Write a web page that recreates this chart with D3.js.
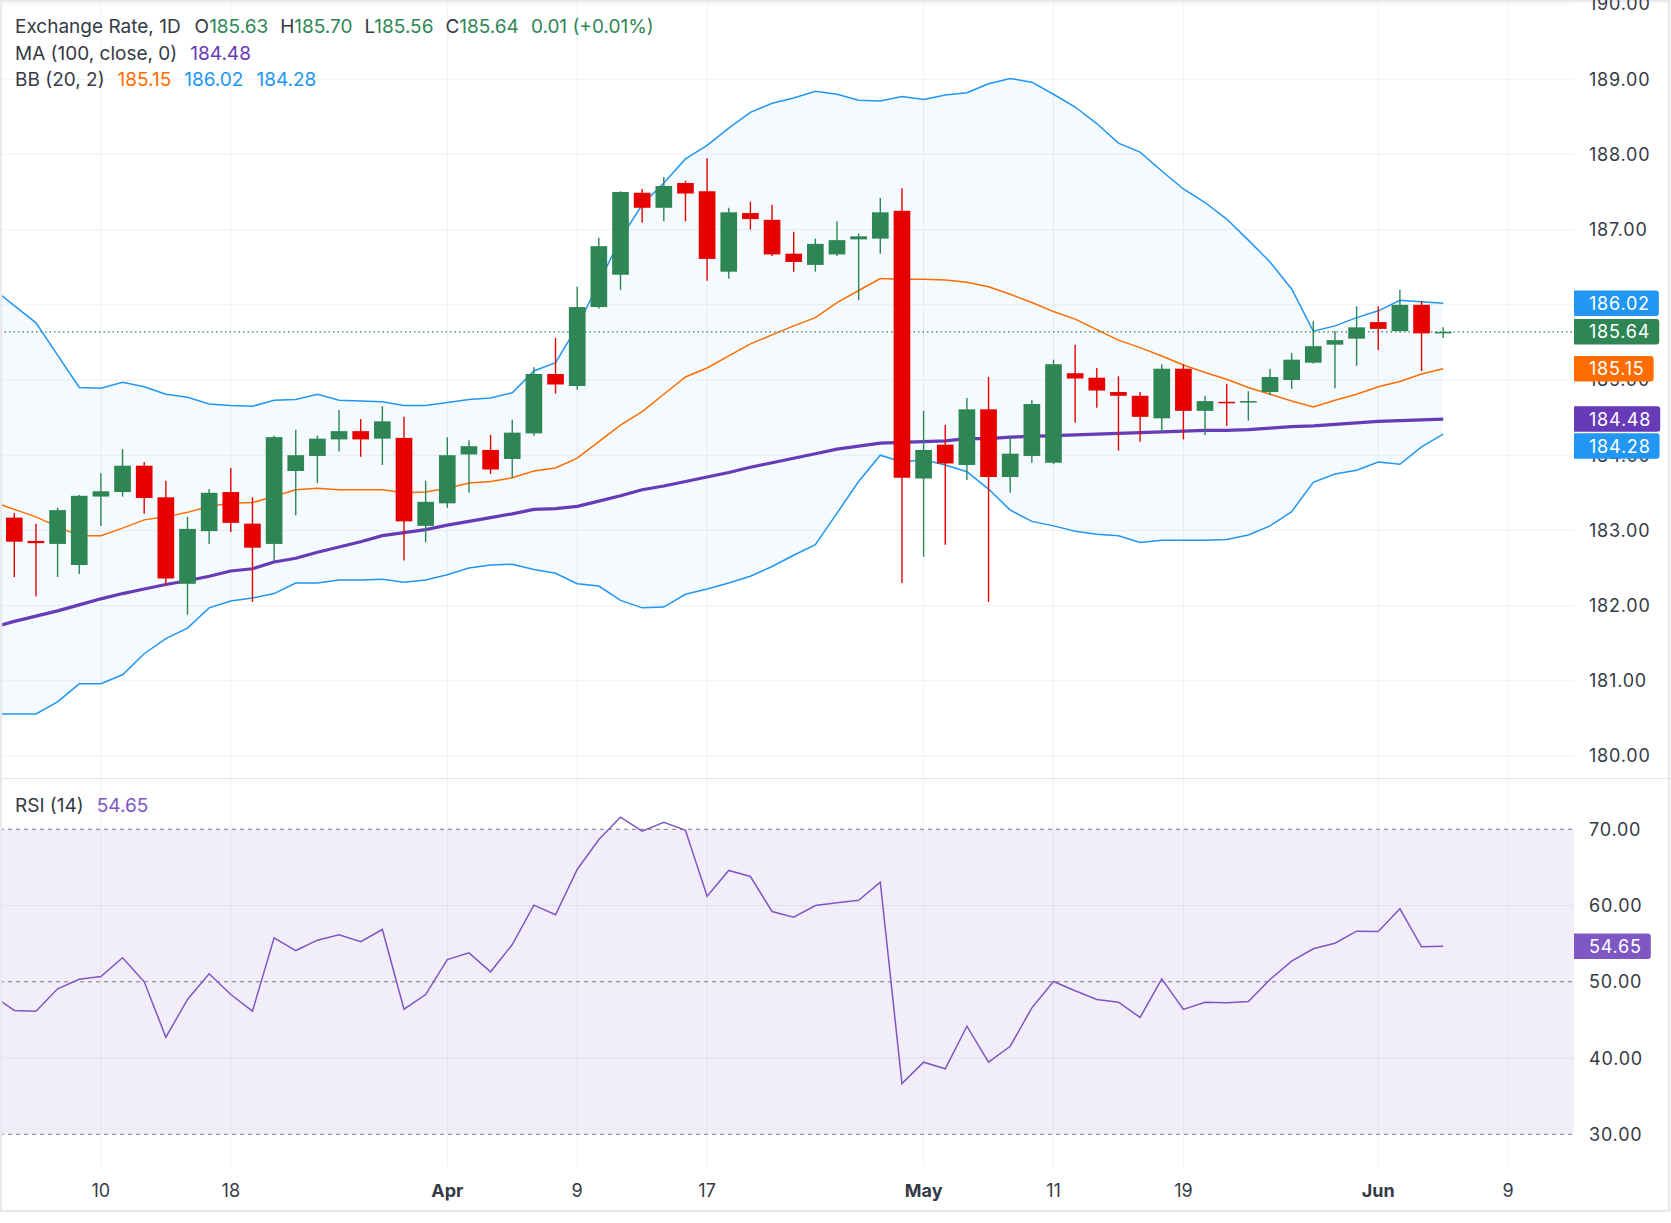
<!DOCTYPE html>
<html>
<head>
<meta charset="utf-8">
<script src="https://cdn.jsdelivr.net/npm/d3@7"></script>
<style>
  html, body { margin: 0; padding: 0; background: #fff; }
  svg { display: block; font-family: Inter, "Noto Sans", sans-serif; }
</style>
</head>
<body>
<div id="chart"></div>
<script>
// ---- data ----
const firstDay = "2026-03-04";           // first visible daily bar (weekdays only)
const tickDates = ["2026-03-10", "2026-03-18", "2026-04-01", "2026-04-09", "2026-04-17",
                   "2026-05-01", "2026-05-11", "2026-05-19", "2026-06-01", "2026-06-09"];
const tickLabels = ["10", "18", "Apr", "9", "17", "May", "11", "19", "Jun", "9"];
const monthTicks = ["Apr", "May", "Jun"];

const open = [183.17, 182.86, 182.82, 182.54, 183.45, 183.51, 183.86, 183.44, 182.29, 182.99,
  183.51, 183.09, 182.82, 183.79, 183.99, 184.21, 184.32, 184.22, 184.23, 183.06,
  183.36, 184.01, 184.07, 183.95, 184.29, 185.08, 184.92, 185.97, 186.40, 187.49,
  187.29, 187.62, 187.51, 186.44, 187.22, 187.13, 186.68, 186.53, 186.67, 186.87,
  186.88, 187.25, 183.69, 184.14, 183.87, 184.61, 183.71, 183.99, 183.90, 185.09,
  185.03, 184.84, 184.79, 184.49, 185.15, 184.59, 184.71, 184.70, 184.84, 185.00,
  185.23, 185.47, 185.55, 185.77, 185.65, 186.00, 185.63];
const high = [183.23, 183.09, 183.30, 183.47, 183.76, 184.08, 183.91, 183.66, 183.18, 183.55,
  183.83, 183.44, 184.26, 184.34, 184.26, 184.60, 184.48, 184.65, 184.51, 183.66,
  184.24, 184.20, 184.27, 184.47, 185.17, 185.56, 186.24, 186.89, 187.51, 187.54,
  187.70, 187.65, 187.95, 187.29, 187.37, 187.33, 186.97, 186.88, 187.11, 186.95,
  187.42, 187.55, 184.59, 184.40, 184.76, 185.04, 184.24, 184.73, 185.27, 185.47,
  185.16, 185.05, 184.84, 185.21, 185.21, 184.79, 184.95, 184.85, 185.15, 185.36,
  185.78, 185.65, 185.98, 185.98, 186.20, 186.05, 185.70];
const low = [182.38, 182.12, 182.38, 182.42, 183.06, 183.45, 183.22, 182.27, 181.88, 182.82,
  182.98, 182.05, 182.59, 183.20, 183.63, 184.05, 183.98, 183.87, 182.60, 182.84,
  183.30, 183.50, 183.75, 183.70, 184.26, 184.82, 184.87, 185.95, 186.20, 187.09,
  187.11, 187.11, 186.32, 186.35, 187.00, 186.65, 186.44, 186.44, 186.65, 186.06,
  186.68, 182.30, 182.65, 182.81, 183.67, 182.05, 183.50, 183.90, 183.88, 184.43,
  184.63, 184.06, 184.18, 184.31, 184.21, 184.27, 184.39, 184.46, 184.80, 184.88,
  185.22, 184.89, 185.19, 185.40, 185.64, 185.12, 185.56];
const close = [182.85, 182.83, 183.27, 183.46, 183.52, 183.86, 183.43, 182.36, 183.02, 183.50,
  183.10, 182.77, 184.24, 184.00, 184.22, 184.32, 184.21, 184.45, 183.12, 183.38,
  184.00, 184.12, 183.81, 184.30, 185.08, 184.94, 185.97, 186.78, 187.50, 187.29,
  187.58, 187.48, 186.61, 187.23, 187.14, 186.67, 186.57, 186.81, 186.86, 186.91,
  187.23, 183.70, 184.07, 183.89, 184.61, 183.71, 184.02, 184.68, 185.21, 185.02,
  184.86, 184.79, 184.51, 185.15, 184.59, 184.72, 184.70, 184.72, 185.04, 185.27,
  185.45, 185.53, 185.70, 185.68, 186.00, 185.62, 185.64];

// indicator series start one bar before the first visible candle
const indicatorStart = -1;
const bbUpper = [186.22, 185.99, 185.76, 185.33, 184.90, 184.89, 184.97, 184.91, 184.81, 184.77,
  184.68, 184.66, 184.65, 184.73, 184.74, 184.81, 184.73, 184.72, 184.71, 184.66,
  184.66, 184.70, 184.74, 184.76, 184.83, 185.12, 185.23, 185.71, 186.29, 186.88,
  187.33, 187.62, 187.94, 188.12, 188.35, 188.56, 188.68, 188.75, 188.84, 188.80,
  188.72, 188.71, 188.77, 188.73, 188.79, 188.82, 188.94, 189.01, 188.96, 188.80,
  188.63, 188.41, 188.15, 188.03, 187.78, 187.54, 187.36, 187.14, 186.86, 186.57,
  186.21, 185.65, 185.72, 185.83, 185.92, 186.06, 186.04, 186.02];
const bbMid = [183.38, 183.28, 183.18, 183.05, 182.93, 182.93, 183.03, 183.14, 183.18, 183.24,
  183.32, 183.36, 183.37, 183.45, 183.54, 183.56, 183.54, 183.54, 183.54, 183.50,
  183.51, 183.56, 183.63, 183.65, 183.70, 183.79, 183.83, 183.96, 184.18, 184.40,
  184.58, 184.81, 185.04, 185.16, 185.32, 185.48, 185.60, 185.72, 185.83, 186.03,
  186.19, 186.35, 186.34, 186.34, 186.33, 186.30, 186.24, 186.14, 186.03, 185.91,
  185.81, 185.67, 185.53, 185.43, 185.32, 185.20, 185.10, 185.01, 184.90, 184.81,
  184.72, 184.64, 184.73, 184.81, 184.91, 184.98, 185.08, 185.15];
const bbLower = [180.56, 180.56, 180.56, 180.72, 180.96, 180.96, 181.08, 181.36, 181.56, 181.70,
  181.97, 182.06, 182.10, 182.16, 182.30, 182.30, 182.34, 182.34, 182.35, 182.31,
  182.34, 182.41, 182.50, 182.54, 182.55, 182.48, 182.43, 182.29, 182.26, 182.07,
  181.97, 181.98, 182.15, 182.22, 182.30, 182.39, 182.52, 182.67, 182.81, 183.23,
  183.65, 184.00, 183.91, 183.94, 183.87, 183.78, 183.55, 183.27, 183.12, 183.06,
  182.99, 182.95, 182.93, 182.84, 182.87, 182.87, 182.87, 182.88, 182.94, 183.06,
  183.25, 183.64, 183.75, 183.80, 183.91, 183.88, 184.11, 184.28];
const ma100 = [181.71, 181.79, 181.86, 181.93, 182.01, 182.09, 182.16, 182.22, 182.28, 182.33,
  182.39, 182.46, 182.49, 182.58, 182.63, 182.71, 182.78, 182.85, 182.93, 182.97,
  183.01, 183.07, 183.12, 183.17, 183.22, 183.28, 183.29, 183.32, 183.39, 183.46,
  183.54, 183.59, 183.65, 183.71, 183.77, 183.84, 183.90, 183.96, 184.02, 184.08,
  184.12, 184.16, 184.17, 184.18, 184.19, 184.22, 184.22, 184.24, 184.25, 184.26,
  184.27, 184.28, 184.29, 184.30, 184.31, 184.32, 184.33, 184.33, 184.34, 184.36,
  184.38, 184.39, 184.41, 184.43, 184.45, 184.46, 184.47, 184.48];
const rsi14 = [48.2, 46.24, 46.15, 49.08, 50.34, 50.70, 53.15, 50.00, 42.74, 47.68,
  51.05, 48.33, 46.15, 55.77, 54.10, 55.46, 56.16, 55.25, 56.86, 46.41,
  48.33, 52.92, 53.80, 51.31, 54.89, 60.05, 58.79, 64.73, 68.66, 71.59,
  69.76, 70.93, 69.88, 61.23, 64.60, 63.81, 59.22, 58.47, 60.01, 60.36,
  60.70, 63.07, 36.66, 39.46, 38.59, 44.18, 39.46, 41.55, 46.59, 50.04,
  48.82, 47.68, 47.32, 45.32, 50.39, 46.37, 47.32, 47.24, 47.42, 50.30,
  52.70, 54.33, 55.06, 56.64, 56.60, 59.57, 54.59, 54.65];

const priceTicks = [180, 181, 182, 183, 184, 185, 186, 187, 188, 189, 190];
const rsiTicks = [70, 60, 50, 40, 30];
const rsiLevels = [70, 50, 30];

// ---- layout ----
const width = 1671;
const height = 1223;
const plotRight = 1574;
const mainBottom = 778;
const rsiBottom = 1167;
const labelX = 1589;

const colUp = "#2e8655";
const colDown = "#e60000";
const colBB = "#2196f3";
const colMid = "#ff6d00";
const colMA = "#673ab7";
const colRSI = "#7e57c2";
const colText = "#363a45";
const colGrid = "#eff1f4";

// trading days (weekdays) from the first bar
const parse = d3.utcParse("%Y-%m-%d");
const tradingDays = d3.utcDays(parse(firstDay), parse("2026-07-01"))
  .filter(d => d.getUTCDay() !== 0 && d.getUTCDay() !== 6);
const fmt = d3.utcFormat("%Y-%m-%d");
const dayIndex = new Map(tradingDays.map((d, i) => [fmt(d), i]));

const xScale = d3.scaleLinear().domain([0, 66]).range([14.3, 1443.2]);
const yPrice = d3.scaleLinear().domain([180, 190]).range([756, 4]);
const yRsi = d3.scaleLinear().domain([30, 70]).range([1134.3, 829.3]);
const step = xScale(1) - xScale(0);
const bodyW = step * 0.77;

const svg = d3.select("#chart")
  .append("svg")
  .attr("width", width)
  .attr("height", height);

const defs = svg.append("defs");
defs.append("clipPath").attr("id", "clipMain")
  .append("rect").attr("x", 0).attr("y", 0).attr("width", plotRight).attr("height", mainBottom);
defs.append("clipPath").attr("id", "clipRsi")
  .append("rect").attr("x", 0).attr("y", mainBottom + 1).attr("width", plotRight).attr("height", rsiBottom - mainBottom - 1);

// Grid
const grid = svg.append("g");
grid.selectAll(".hgrid")
  .data(priceTicks)
  .enter().append("line")
  .attr("x1", 0).attr("x2", plotRight)
  .attr("y1", d => yPrice(d)).attr("y2", d => yPrice(d))
  .attr("stroke", colGrid).attr("stroke-width", 1);
grid.selectAll(".rgrid")
  .data([60, 40])
  .enter().append("line")
  .attr("x1", 0).attr("x2", plotRight)
  .attr("y1", d => yRsi(d)).attr("y2", d => yRsi(d))
  .attr("stroke", colGrid).attr("stroke-width", 1);
const tickX = tickDates.map(d => xScale(dayIndex.get(d)));
grid.selectAll(".vgrid")
  .data(tickX)
  .enter().append("line")
  .attr("x1", d => d).attr("x2", d => d)
  .attr("y1", 0).attr("y2", rsiBottom)
  .attr("stroke", colGrid).attr("stroke-width", 1);

// ---- main pane ----
const main = svg.append("g").attr("clip-path", "url(#clipMain)");
const ix = i => xScale(i + indicatorStart);

const band = d3.area()
  .x((d, i) => ix(i))
  .y0((d, i) => yPrice(bbLower[i]))
  .y1(d => yPrice(d));
main.append("path").datum(bbUpper)
  .attr("d", band)
  .attr("fill", colBB).attr("fill-opacity", 0.05);

const priceLine = d3.line().x((d, i) => ix(i)).y(d => yPrice(d));
main.append("path").datum(bbUpper).attr("d", priceLine)
  .attr("fill", "none").attr("stroke", colBB).attr("stroke-width", 1.5);
main.append("path").datum(bbLower).attr("d", priceLine)
  .attr("fill", "none").attr("stroke", colBB).attr("stroke-width", 1.5);
main.append("path").datum(bbMid).attr("d", priceLine)
  .attr("fill", "none").attr("stroke", colMid).attr("stroke-width", 1.5);
main.append("path").datum(ma100).attr("d", priceLine)
  .attr("fill", "none").attr("stroke", colMA).attr("stroke-width", 3.2)
  .attr("stroke-linejoin", "round");

// last price dotted line
const lastClose = close[close.length - 1];
main.append("line")
  .attr("x1", 0).attr("x2", plotRight)
  .attr("y1", yPrice(lastClose)).attr("y2", yPrice(lastClose))
  .attr("stroke", colUp).attr("stroke-width", 1.2)
  .attr("stroke-dasharray", "1.5,3");

// candles
const candles = main.selectAll(".candle")
  .data(close.map((c, i) => ({ i, o: open[i], h: high[i], l: low[i], c })))
  .enter().append("g")
  .attr("class", "candle");
candles.append("line")
  .attr("x1", d => xScale(d.i)).attr("x2", d => xScale(d.i))
  .attr("y1", d => yPrice(d.h)).attr("y2", d => yPrice(d.l))
  .attr("stroke", d => d.c >= d.o ? colUp : colDown)
  .attr("stroke-width", 1.4);
candles.append("rect")
  .attr("x", d => xScale(d.i) - bodyW / 2)
  .attr("width", bodyW)
  .attr("y", d => yPrice(Math.max(d.o, d.c)))
  .attr("height", d => Math.max(1.5, Math.abs(yPrice(d.o) - yPrice(d.c))))
  .attr("fill", d => d.c >= d.o ? colUp : colDown);

// ---- RSI pane ----
const rsiG = svg.append("g").attr("clip-path", "url(#clipRsi)");
rsiG.append("rect")
  .attr("x", 0).attr("width", plotRight)
  .attr("y", yRsi(70)).attr("height", yRsi(30) - yRsi(70))
  .attr("fill", colRSI).attr("fill-opacity", 0.1);
rsiG.selectAll(".lvl")
  .data(rsiLevels)
  .enter().append("line")
  .attr("x1", 0).attr("x2", plotRight)
  .attr("y1", d => yRsi(d)).attr("y2", d => yRsi(d))
  .attr("stroke", "#787b86").attr("stroke-width", 1)
  .attr("stroke-dasharray", "4,4");
rsiG.append("path").datum(rsi14)
  .attr("d", d3.line().x((d, i) => ix(i)).y(d => yRsi(d)))
  .attr("fill", "none").attr("stroke", colRSI).attr("stroke-width", 1.5);

// pane separator and outer frame
svg.append("line")
  .attr("x1", 0).attr("x2", width).attr("y1", mainBottom + 0.5).attr("y2", mainBottom + 0.5)
  .attr("stroke", "#e0e3eb").attr("stroke-width", 1);
svg.append("rect")
  .attr("x", 1).attr("y", 1).attr("width", 1668).attr("height", 1210)
  .attr("fill", "none").attr("stroke", "#e9eaee").attr("stroke-width", 2.5);

// ---- axes ----
const axisFont = 18;
const axisSpacing = 0.8;
svg.append("g").selectAll("text")
  .data(priceTicks)
  .enter().append("text")
  .attr("x", labelX).attr("y", d => yPrice(d))
  .attr("dy", "0.36em")
  .attr("font-size", axisFont).attr("letter-spacing", axisSpacing)
  .attr("fill", colText)
  .text(d => d.toFixed(2));
svg.append("g").selectAll("text")
  .data(rsiTicks)
  .enter().append("text")
  .attr("x", labelX).attr("y", d => yRsi(d))
  .attr("dy", "0.36em")
  .attr("font-size", axisFont).attr("letter-spacing", axisSpacing)
  .attr("fill", colText)
  .text(d => d.toFixed(2));
svg.append("g").selectAll("text")
  .data(tickLabels)
  .enter().append("text")
  .attr("x", (d, i) => tickX[i]).attr("y", 1197)
  .attr("text-anchor", "middle")
  .attr("font-size", axisFont)
  .attr("font-weight", d => monthTicks.includes(d) ? 700 : 400)
  .attr("fill", colText)
  .text(d => d);

// value tags on the price scale, pushed apart where they overlap
const last = a => a[a.length - 1];
const tags = [
  { v: last(bbUpper), color: colBB },
  { v: lastClose, color: colUp },
  { v: last(bbMid), color: colMid },
  { v: last(ma100), color: colMA },
  { v: last(bbLower), color: colBB }
].map(t => ({ ...t, y: yPrice(t.v) }))
 .sort((a, b) => a.y - b.y);
const tagH = 25.5;
for (let k = 1; k < tags.length; k++) {
  const minY = tags[k - 1].y + tagH + 1.5;
  if (tags[k].y < minY) tags[k].y = minY;
}
const drawTag = (g, t) => {
  const gg = g.append("g");
  const txt = gg.append("text")
    .attr("x", labelX).attr("y", t.y).attr("dy", "0.36em")
    .attr("font-size", axisFont).attr("letter-spacing", axisSpacing)
    .attr("fill", "#fff").text(t.v.toFixed(2));
  const w = txt.node().getComputedTextLength();
  gg.insert("path", "text")
    .attr("d", () => {
      const x0 = plotRight, x1 = labelX + w + 9, y0 = t.y - tagH / 2, y1 = t.y + tagH / 2, r = 3;
      return `M${x0},${y0}H${x1 - r}Q${x1},${y0} ${x1},${y0 + r}V${y1 - r}Q${x1},${y1} ${x1 - r},${y1}H${x0}Z`;
    })
    .attr("fill", t.color);
};
const tagG = svg.append("g");
tags.forEach(t => drawTag(tagG, t));
drawTag(tagG, { v: last(rsi14), color: colRSI, y: yRsi(last(rsi14)) });

// ---- legends ----
const legend = svg.append("g").attr("font-size", 19).attr("fill", colText);
const l1 = legend.append("text").attr("x", 15).attr("y", 33);
l1.append("tspan").text("Exchange Rate, 1D");
[["O", open], ["H", high], ["L", low], ["C", close]].forEach(([k, arr], j) => {
  l1.append("tspan").attr("dx", j === 0 ? 14 : 12).text(k);
  l1.append("tspan").attr("fill", colUp).text(last(arr).toFixed(2));
});
const chg = lastClose - last(open);
l1.append("tspan").attr("dx", 12).attr("fill", colUp)
  .text(`${chg.toFixed(2)} (+${(chg / last(open) * 100).toFixed(2)}%)`);

const l2 = legend.append("text").attr("x", 15).attr("y", 59.5);
l2.append("tspan").text("MA (100, close, 0)");
l2.append("tspan").attr("dx", 13).attr("fill", colMA).text(last(ma100).toFixed(2));

const l3 = legend.append("text").attr("x", 15).attr("y", 86);
l3.append("tspan").text("BB (20, 2)");
l3.append("tspan").attr("dx", 13).attr("fill", colMid).text(last(bbMid).toFixed(2));
l3.append("tspan").attr("dx", 13).attr("fill", colBB).text(last(bbUpper).toFixed(2));
l3.append("tspan").attr("dx", 13).attr("fill", colBB).text(last(bbLower).toFixed(2));

const l4 = legend.append("text").attr("x", 15).attr("y", 812);
l4.append("tspan").text("RSI (14)");
l4.append("tspan").attr("dx", 13).attr("fill", colRSI).text(last(rsi14).toFixed(2));
</script>
</body>
</html>
